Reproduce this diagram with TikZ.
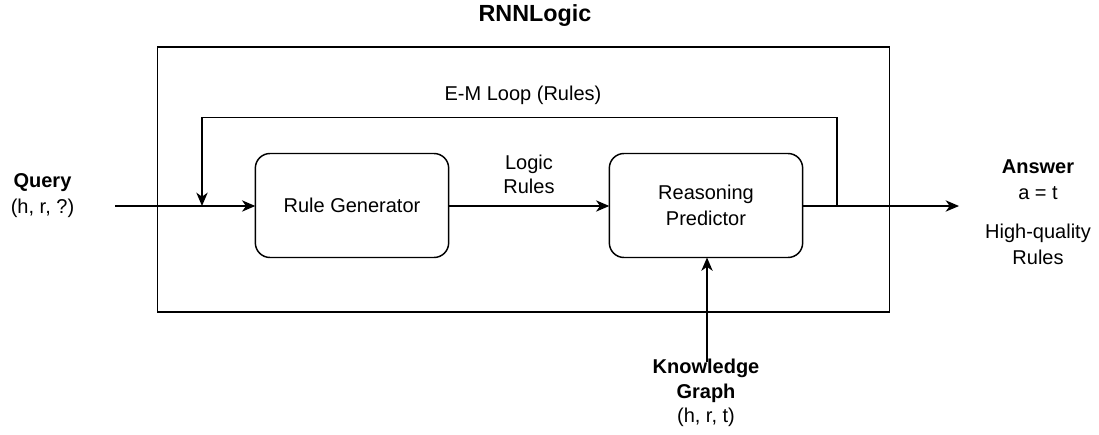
\documentclass[tikz,border=0pt]{standalone}
\usepackage{fontspec}
\setmainfont{Liberation Sans}
\usetikzlibrary{arrows.meta}
\begin{document}
\begin{tikzpicture}[x=0.75pt,y=-0.75pt,
  line width=1.1pt,
  >={Stealth[length=10pt,width=8.5pt,inset=3pt]},
  block/.style={draw, rounded corners=11pt, minimum width=145pt, minimum height=78pt,
    inner sep=0pt, outer sep=0pt, align=center, font=\fontsize{15}{18}\selectfont},
  txt/.style={inner sep=0pt, anchor=base, font=\fontsize{15}{18}\selectfont},
  btxt/.style={txt, font=\bfseries\fontsize{15}{18}\selectfont}]
\useasboundingbox (0,0) rectangle (1099,435);

% enclosing frame and title
\node[draw, minimum width=549pt, minimum height=198.75pt, inner sep=0pt, outer sep=0pt] (frame) at (523.5,179.5) {};
\node[txt, font=\bfseries\fontsize{17.5}{21}\selectfont] (title) at (535,22) {RNNLogic};

% the two modules
\node[block] (rg) at (352,205.5) {Rule Generator};
\node[block] (rp) at (706,205.5) {Reasoning\\[1.5pt]Predictor};

% inputs and outputs
\node[btxt] (query) at (42.5,187) {Query};
\node[txt] (queryargs) at (42.5,213) {(h, r, ?)};
\node[btxt] (answer) at (1038,173) {Answer};
\node[txt] (answerval) at (1038,199) {a = t};
\node[txt] (hq) at (1038,238) {High-quality};
\node[txt] (hqrules) at (1038,264) {Rules};
\node[btxt] (kg) at (706,373) {Knowledge};
\node[btxt] (kggraph) at (706,398) {Graph};
\node[txt] (kgargs) at (706,422) {(h, r, t)};

\coordinate (qin) at (115,206);
\coordinate (join) at (202,206);
\coordinate (out) at (959,206);
\coordinate (split) at (837,206);
\coordinate (looptop) at (837,117.5);
\coordinate (kgin) at (707,362);

% main flow
\draw[->] (qin) -- (rg.west |- qin);
\draw[->] (rg.east |- qin) -- (rp.west |- qin);
\node[txt] (logic) at (529,169) {Logic};
\node[txt] (logicrules) at (529,193) {Rules};
\draw (rp.east |- qin) -- (split);
\draw[->] (split) -- (out);
\draw[->] (kgin) -- (rp.south -| kgin);

% E-M feedback loop
\draw[->] (split) -- (looptop) -| (join);
\node[txt] (emloop) at (523,100) {E-M Loop (Rules)};
\end{tikzpicture}
\end{document}
